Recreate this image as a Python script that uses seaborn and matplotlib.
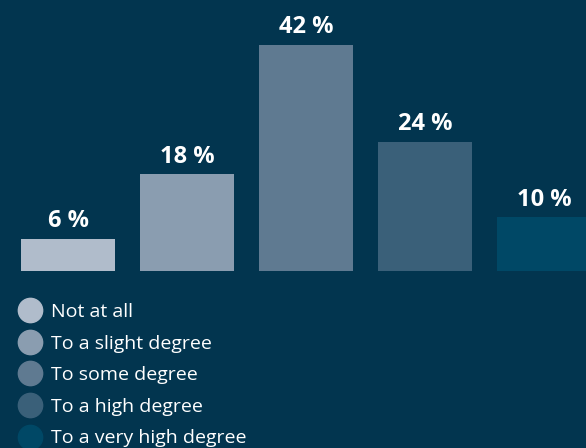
import matplotlib
matplotlib.use('Agg')
import matplotlib.pyplot as plt
from matplotlib.lines import Line2D
import seaborn as sns
import pandas as pd

# --- Data ---
categories = ['Not at all', 'To a slight degree', 'To some degree',
              'To a high degree', 'To a very high degree']
values = [6, 18, 42, 24, 10]
colors = ['#b0bccb', '#8a9db0', '#5f7a91', '#3a6079', '#004866']
bg = '#02354f'

df = pd.DataFrame({'answer': categories, 'share': values})

sns.set_style('white')
plt.rcParams['font.family'] = ['Open Sans', 'DejaVu Sans']

fig = plt.figure(figsize=(5.86, 4.48), dpi=100, facecolor=bg)
# axes runs past the right edge so the last bar is clipped like the original
ax = fig.add_axes([8.5 / 586, 177 / 448, 595 / 586, 269 / 448])
ax.set_facecolor(bg)

sns.barplot(ax=ax, data=df, x='answer', y='share', hue='answer',
            palette=colors, legend=False, width=0.79, saturation=1,
            linewidth=0)

for i, v in enumerate(values):
    ax.annotate(f'{v} %', (i, v), xytext=(0, 4), textcoords='offset points',
                ha='center', va='bottom', color='white', fontsize=17,
                fontweight='bold')

ax.set_xlim(-0.5, 4.5)
ax.set_ylim(0, 50)
ax.axis('off')

# --- Legend ---
handles = [Line2D([0], [0], marker='o', linestyle='None', markersize=17.5,
                  markerfacecolor=c, markeredgecolor=c, label=lab)
           for c, lab in zip(colors, categories)]
leg = fig.legend(handles=handles, loc='upper left',
                 bbox_to_anchor=(20 / 586, 1 - 303 / 448), frameon=False,
                 fontsize=14, labelcolor='white', handlelength=1.0,
                 handletextpad=0.6, labelspacing=0.7, borderaxespad=0,
                 borderpad=0)

plt.savefig('out.png', dpi=100, facecolor=bg)
